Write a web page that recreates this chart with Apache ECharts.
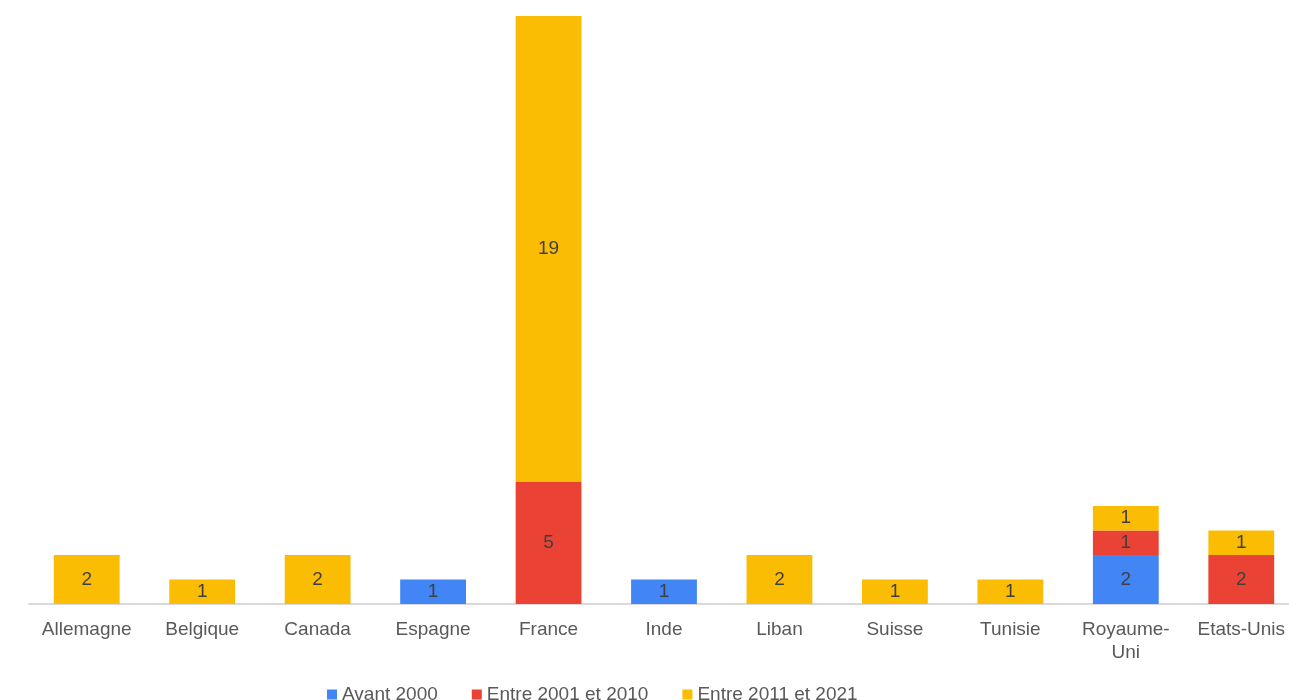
<!DOCTYPE html>
<html>
<head>
<meta charset="utf-8">
<script src="https://cdn.jsdelivr.net/npm/echarts@6/dist/echarts.min.js"></script>
<style>
  html, body { margin: 0; padding: 0; background: #fff; }
  #chart { width: 1289px; height: 700px; }
</style>
</head>
<body>
<div id="chart"></div>
<script>
// Categories (countries)
const countries = ['Allemagne', 'Belgique', 'Canada', 'Espagne', 'France', 'Inde',
    'Liban', 'Suisse', 'Tunisie', 'Royaume-Uni', 'Etats-Unis'];

// Series values per period
const avant2000 = [0, 0, 0, 1, 0, 1, 0, 0, 0, 2, 0];
const entre2001et2010 = [0, 0, 0, 0, 5, 0, 0, 0, 0, 1, 2];
const entre2011et2021 = [2, 1, 2, 0, 19, 0, 2, 1, 1, 1, 1];

const seriesNames = ['Avant 2000', 'Entre 2001 et 2010', 'Entre 2011 et 2021'];
const seriesColors = ['#4285F4', '#EA4335', '#FBBC04'];

const chart = echarts.init(document.getElementById('chart'));

// shared label style - hide zero segments
const barLabel = {
    show: true,
    position: 'inside',
    color: '#404040',
    fontFamily: 'Liberation Sans, Arial, sans-serif',
    fontSize: 19,
    formatter: p => (p.value ? p.value : '')
};

const makeSeries = (name, data, color) => ({
    name: name,
    type: 'bar',
    stack: 'total',
    data: data,
    barWidth: '57%',
    itemStyle: { color: color },
    label: barLabel,
    emphasis: { disabled: true }
});

chart.setOption({
    animation: false,
    textStyle: { fontFamily: 'Liberation Sans, Arial, sans-serif' },
    grid: { left: 29, width: 1270, top: 16, bottom: 96, containLabel: false, outerBoundsMode: 'none' },
    legend: {
        top: 680,
        left: 322,
        icon: 'rect',
        itemWidth: 10,
        itemHeight: 10,
        itemGap: 34,
        textStyle: { color: '#595959', fontSize: 19 },
        data: seriesNames
    },
    xAxis: {
        type: 'category',
        data: countries,
        axisLine: { lineStyle: { color: '#d9d9d9', width: 2 } },
        axisTick: { show: false },
        axisLabel: {
            color: '#595959',
            fontSize: 19,
            margin: 14,
            lineHeight: 23,
            interval: 0,
            formatter: v => (v === 'Royaume-Uni' ? 'Royaume-\nUni' : v)
        }
    },
    yAxis: {
        type: 'value',
        min: 0,
        max: 24,
        show: false,
        splitLine: { show: false }
    },
    series: [
        makeSeries(seriesNames[0], avant2000, seriesColors[0]),
        makeSeries(seriesNames[1], entre2001et2010, seriesColors[1]),
        makeSeries(seriesNames[2], entre2011et2021, seriesColors[2])
    ]
});
</script>
</body>
</html>
